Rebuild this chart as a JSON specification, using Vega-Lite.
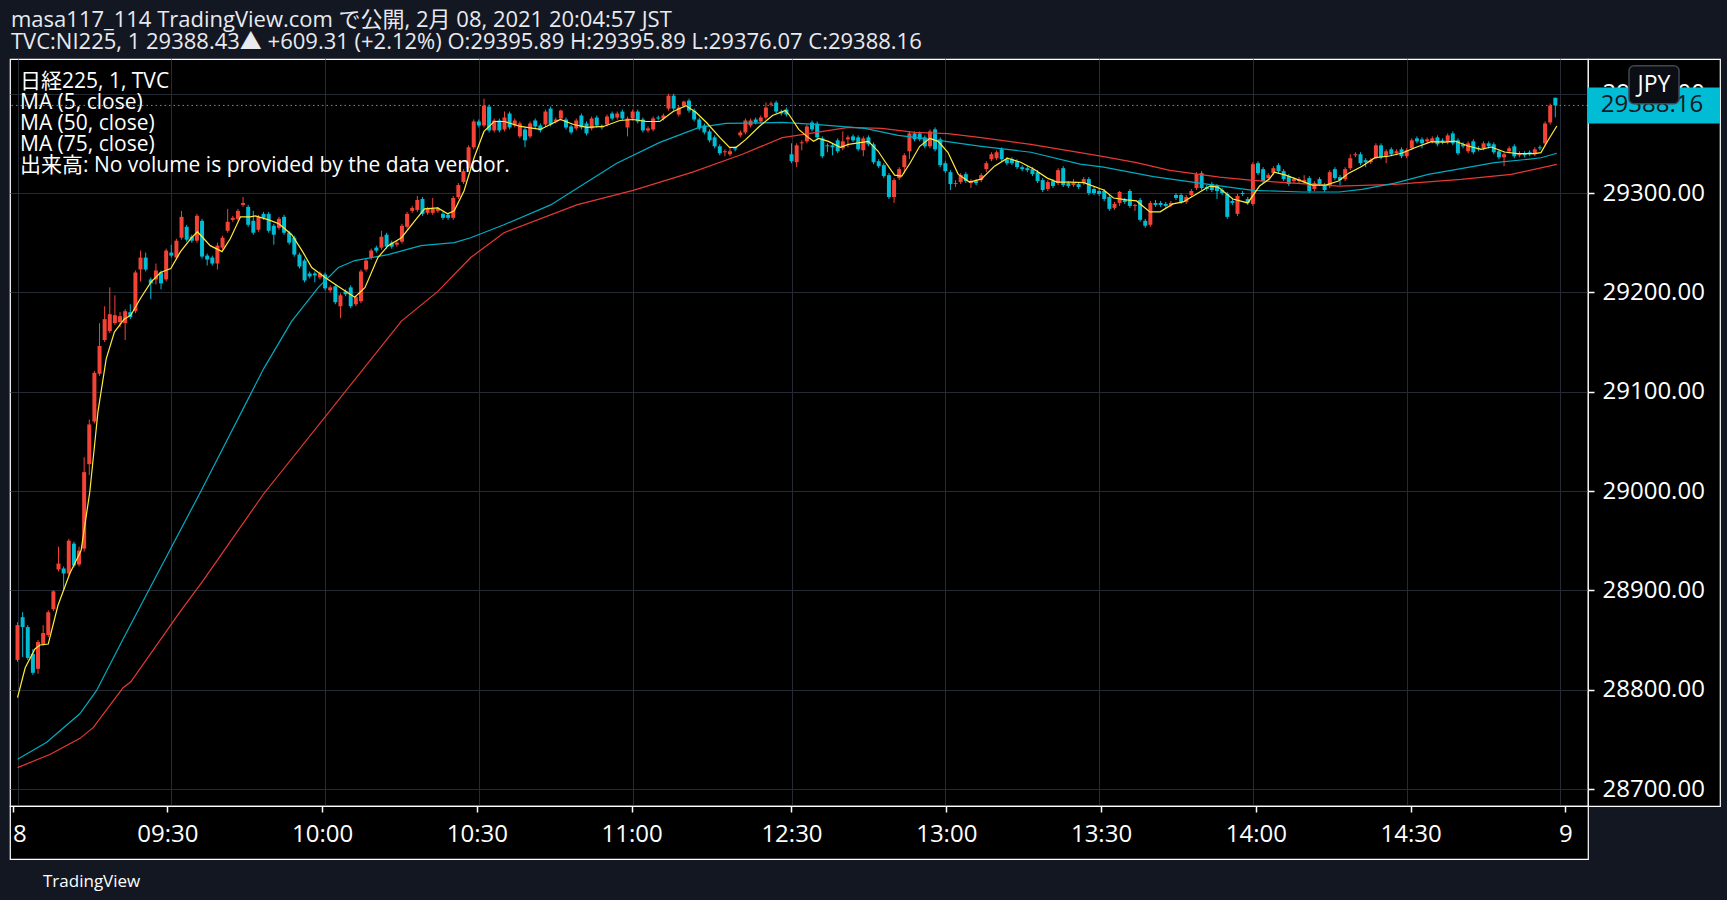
{
  "$schema": "https://vega.github.io/schema/vega-lite/v6.json",
  "background": "#131722",
  "padding": {"left": 8, "top": 9, "right": 9, "bottom": 9},
  "title": {
    "text": "masa117_114 TradingView.com で公開, 2月 08, 2021 20:04:57 JST",
    "subtitle": "TVC:NI225, 1 29388.43▲ +609.31 (+2.12%) O:29395.89 H:29395.89 L:29376.07 C:29388.16",
    "anchor": "start", "frame": "group", "orient": "top", "offset": 4, "dx": 1,
    "font": "Open Sans, Noto Sans CJK JP", "fontSize": 22, "fontWeight": "normal", "color": "#e8eaf0",
    "subtitleFont": "Open Sans, Noto Sans CJK JP", "subtitleFontSize": 22, "subtitleColor": "#e8eaf0", "subtitlePadding": 0
  },
  "columns": 2,
  "spacing": 0,
  "bounds": "flush",
  "datasets": {
    "candles": [
      {"i":0,"o":28830,"h":28868,"l":28828,"c":28865},{"i":1,"o":28873,"h":28878,"l":28833,"c":28863},{"i":2,"o":28863,"h":28865,"l":28830,"c":28832},{"i":3,"o":28836,"h":28841,"l":28815,"c":28817},{"i":4,"o":28821,"h":28850,"l":28816,"c":28848},
      {"i":5,"o":28846,"h":28865,"l":28844,"c":28857},{"i":6,"o":28855,"h":28880,"l":28853,"c":28878},{"i":7,"o":28881,"h":28900,"l":28879,"c":28899},{"i":8,"o":28921,"h":28944,"l":28919,"c":28927},{"i":9,"o":28922,"h":28924,"l":28900,"c":28917},
      {"i":10,"o":28917,"h":28952,"l":28915,"c":28950},{"i":11,"o":28947,"h":28949,"l":28923,"c":28925},{"i":12,"o":28926,"h":28944,"l":28924,"c":28940},{"i":13,"o":28942,"h":29034,"l":28939,"c":29019},{"i":14,"o":29027,"h":29072,"l":29016,"c":29067},
      {"i":15,"o":29070,"h":29121,"l":29068,"c":29119},{"i":16,"o":29118,"h":29169,"l":29116,"c":29146},{"i":17,"o":29152,"h":29186,"l":29150,"c":29173},{"i":18,"o":29161,"h":29205,"l":29159,"c":29178},{"i":19,"o":29169,"h":29197,"l":29167,"c":29177},
      {"i":20,"o":29170,"h":29180,"l":29165,"c":29176},{"i":21,"o":29169,"h":29183,"l":29152,"c":29181},{"i":22,"o":29180,"h":29188,"l":29173,"c":29175},{"i":23,"o":29181,"h":29222,"l":29179,"c":29220},{"i":24,"o":29223,"h":29242,"l":29211,"c":29235},
      {"i":25,"o":29235,"h":29240,"l":29221,"c":29223},{"i":26,"o":29213,"h":29215,"l":29193,"c":29209},{"i":27,"o":29213,"h":29229,"l":29208,"c":29222},{"i":28,"o":29220,"h":29222,"l":29203,"c":29209},{"i":29,"o":29213,"h":29244,"l":29211,"c":29242},
      {"i":30,"o":29240,"h":29248,"l":29235,"c":29237},{"i":31,"o":29235,"h":29254,"l":29233,"c":29252},{"i":32,"o":29255,"h":29282,"l":29253,"c":29276},{"i":33,"o":29266,"h":29268,"l":29251,"c":29253},{"i":34,"o":29256,"h":29258,"l":29250,"c":29252},
      {"i":35,"o":29252,"h":29279,"l":29250,"c":29277},{"i":36,"o":29272,"h":29274,"l":29234,"c":29236},{"i":37,"o":29237,"h":29239,"l":29227,"c":29233},{"i":38,"o":29235,"h":29237,"l":29227,"c":29229},{"i":39,"o":29229,"h":29250,"l":29223,"c":29247},
      {"i":40,"o":29245,"h":29257,"l":29243,"c":29255},{"i":41,"o":29262,"h":29284,"l":29260,"c":29271},{"i":42,"o":29273,"h":29277,"l":29271,"c":29275},{"i":43,"o":29274,"h":29284,"l":29272,"c":29282},{"i":44,"o":29288,"h":29296,"l":29286,"c":29290},
      {"i":45,"o":29286,"h":29288,"l":29266,"c":29268},{"i":46,"o":29272,"h":29282,"l":29258,"c":29260},{"i":47,"o":29263,"h":29278,"l":29261,"c":29276},{"i":48,"o":29279,"h":29281,"l":29273,"c":29275},{"i":49,"o":29279,"h":29281,"l":29260,"c":29262},
      {"i":50,"o":29267,"h":29269,"l":29248,"c":29258},{"i":51,"o":29265,"h":29276,"l":29263,"c":29274},{"i":52,"o":29276,"h":29278,"l":29258,"c":29260},{"i":53,"o":29260,"h":29262,"l":29248,"c":29250},{"i":54,"o":29255,"h":29257,"l":29236,"c":29238},
      {"i":55,"o":29238,"h":29240,"l":29224,"c":29226},{"i":56,"o":29232,"h":29234,"l":29210,"c":29212},{"i":57,"o":29219,"h":29221,"l":29214,"c":29216},{"i":58,"o":29219,"h":29221,"l":29210,"c":29217},{"i":59,"o":29215,"h":29221,"l":29213,"c":29219},
      {"i":60,"o":29218,"h":29220,"l":29202,"c":29204},{"i":61,"o":29202,"h":29207,"l":29200,"c":29205},{"i":62,"o":29206,"h":29208,"l":29188,"c":29190},{"i":63,"o":29186,"h":29199,"l":29174,"c":29197},{"i":64,"o":29201,"h":29203,"l":29196,"c":29198},
      {"i":65,"o":29205,"h":29207,"l":29184,"c":29186},{"i":66,"o":29188,"h":29197,"l":29186,"c":29195},{"i":67,"o":29191,"h":29223,"l":29189,"c":29221},{"i":68,"o":29223,"h":29234,"l":29221,"c":29232},{"i":69,"o":29235,"h":29244,"l":29233,"c":29242},
      {"i":70,"o":29245,"h":29247,"l":29240,"c":29242},{"i":71,"o":29245,"h":29262,"l":29243,"c":29256},{"i":72,"o":29258,"h":29260,"l":29244,"c":29246},{"i":73,"o":29250,"h":29252,"l":29244,"c":29246},{"i":74,"o":29248,"h":29252,"l":29246,"c":29250},
      {"i":75,"o":29251,"h":29269,"l":29249,"c":29267},{"i":76,"o":29266,"h":29281,"l":29264,"c":29279},{"i":77,"o":29282,"h":29287,"l":29280,"c":29285},{"i":78,"o":29283,"h":29297,"l":29281,"c":29293},{"i":79,"o":29294,"h":29296,"l":29277,"c":29279},
      {"i":80,"o":29280,"h":29286,"l":29278,"c":29284},{"i":81,"o":29280,"h":29295,"l":29278,"c":29284},{"i":82,"o":29282,"h":29286,"l":29280,"c":29284},{"i":83,"o":29279,"h":29281,"l":29273,"c":29275},{"i":84,"o":29278,"h":29280,"l":29273,"c":29275},
      {"i":85,"o":29275,"h":29297,"l":29273,"c":29295},{"i":86,"o":29296,"h":29310,"l":29294,"c":29308},{"i":87,"o":29311,"h":29324,"l":29309,"c":29322},{"i":88,"o":29325,"h":29348,"l":29323,"c":29346},{"i":89,"o":29346,"h":29374,"l":29344,"c":29372},
      {"i":90,"o":29372,"h":29374,"l":29366,"c":29368},{"i":91,"o":29368,"h":29395,"l":29366,"c":29388},{"i":92,"o":29387,"h":29389,"l":29361,"c":29363},{"i":93,"o":29363,"h":29375,"l":29361,"c":29373},{"i":94,"o":29373,"h":29375,"l":29361,"c":29363},
      {"i":95,"o":29364,"h":29382,"l":29362,"c":29376},{"i":96,"o":29380,"h":29382,"l":29364,"c":29366},{"i":97,"o":29368,"h":29375,"l":29366,"c":29373},{"i":98,"o":29357,"h":29372,"l":29355,"c":29370},{"i":99,"o":29364,"h":29366,"l":29346,"c":29353},
      {"i":100,"o":29357,"h":29372,"l":29355,"c":29370},{"i":101,"o":29373,"h":29375,"l":29365,"c":29367},{"i":102,"o":29368,"h":29370,"l":29361,"c":29363},{"i":103,"o":29369,"h":29384,"l":29367,"c":29382},{"i":104,"o":29385,"h":29387,"l":29367,"c":29369},
      {"i":105,"o":29372,"h":29376,"l":29370,"c":29374},{"i":106,"o":29375,"h":29384,"l":29373,"c":29383},{"i":107,"o":29374,"h":29376,"l":29364,"c":29366},{"i":108,"o":29367,"h":29369,"l":29359,"c":29361},{"i":109,"o":29365,"h":29375,"l":29363,"c":29373},
      {"i":110,"o":29378,"h":29380,"l":29364,"c":29366},{"i":111,"o":29370,"h":29372,"l":29358,"c":29360},{"i":112,"o":29365,"h":29377,"l":29363,"c":29375},{"i":113,"o":29376,"h":29378,"l":29366,"c":29368},{"i":114,"o":29367,"h":29369,"l":29364,"c":29366},
      {"i":115,"o":29369,"h":29379,"l":29367,"c":29377},{"i":116,"o":29380,"h":29382,"l":29373,"c":29375},{"i":117,"o":29376,"h":29382,"l":29374,"c":29380},{"i":118,"o":29382,"h":29384,"l":29373,"c":29375},{"i":119,"o":29366,"h":29377,"l":29357,"c":29375},
      {"i":120,"o":29375,"h":29384,"l":29373,"c":29382},{"i":121,"o":29382,"h":29384,"l":29370,"c":29372},{"i":122,"o":29374,"h":29376,"l":29361,"c":29363},{"i":123,"o":29363,"h":29367,"l":29361,"c":29365},{"i":124,"o":29364,"h":29377,"l":29362,"c":29375},
      {"i":125,"o":29376,"h":29378,"l":29373,"c":29375},{"i":126,"o":29375,"h":29380,"l":29373,"c":29378},{"i":127,"o":29385,"h":29400,"l":29383,"c":29398},{"i":128,"o":29398,"h":29400,"l":29383,"c":29385},{"i":129,"o":29379,"h":29388,"l":29377,"c":29386},
      {"i":130,"o":29388,"h":29393,"l":29386,"c":29392},{"i":131,"o":29393,"h":29395,"l":29381,"c":29383},{"i":132,"o":29383,"h":29385,"l":29372,"c":29374},{"i":133,"o":29374,"h":29376,"l":29363,"c":29365},{"i":134,"o":29368,"h":29370,"l":29359,"c":29361},
      {"i":135,"o":29362,"h":29364,"l":29351,"c":29353},{"i":136,"o":29356,"h":29358,"l":29345,"c":29347},{"i":137,"o":29347,"h":29349,"l":29338,"c":29340},{"i":138,"o":29341,"h":29344,"l":29337,"c":29342},{"i":139,"o":29339,"h":29346,"l":29337,"c":29342},
      {"i":140,"o":29345,"h":29347,"l":29342,"c":29344},{"i":141,"o":29358,"h":29363,"l":29356,"c":29361},{"i":142,"o":29361,"h":29375,"l":29359,"c":29373},{"i":143,"o":29368,"h":29375,"l":29366,"c":29373},{"i":144,"o":29374,"h":29376,"l":29369,"c":29371},
      {"i":145,"o":29372,"h":29378,"l":29370,"c":29376},{"i":146,"o":29376,"h":29391,"l":29374,"c":29386},{"i":147,"o":29389,"h":29392,"l":29387,"c":29390},{"i":148,"o":29391,"h":29393,"l":29380,"c":29382},{"i":149,"o":29382,"h":29384,"l":29378,"c":29380},
      {"i":150,"o":29384,"h":29386,"l":29377,"c":29379},{"i":151,"o":29339,"h":29350,"l":29330,"c":29332},{"i":152,"o":29331,"h":29350,"l":29326,"c":29348},{"i":153,"o":29350,"h":29353,"l":29343,"c":29351},{"i":154,"o":29352,"h":29369,"l":29350,"c":29367},
      {"i":155,"o":29371,"h":29373,"l":29362,"c":29364},{"i":156,"o":29370,"h":29372,"l":29354,"c":29356},{"i":157,"o":29355,"h":29357,"l":29335,"c":29337},{"i":158,"o":29348,"h":29350,"l":29341,"c":29347},{"i":159,"o":29348,"h":29350,"l":29338,"c":29346},
      {"i":160,"o":29353,"h":29355,"l":29340,"c":29342},{"i":161,"o":29345,"h":29362,"l":29343,"c":29352},{"i":162,"o":29354,"h":29358,"l":29346,"c":29356},{"i":163,"o":29357,"h":29359,"l":29351,"c":29353},{"i":164,"o":29356,"h":29358,"l":29342,"c":29344},
      {"i":165,"o":29343,"h":29357,"l":29337,"c":29355},{"i":166,"o":29356,"h":29358,"l":29347,"c":29349},{"i":167,"o":29349,"h":29351,"l":29329,"c":29331},{"i":168,"o":29332,"h":29334,"l":29325,"c":29327},{"i":169,"o":29328,"h":29330,"l":29315,"c":29317},
      {"i":170,"o":29318,"h":29320,"l":29294,"c":29296},{"i":171,"o":29296,"h":29315,"l":29290,"c":29313},{"i":172,"o":29315,"h":29326,"l":29313,"c":29324},{"i":173,"o":29326,"h":29340,"l":29320,"c":29338},{"i":174,"o":29342,"h":29362,"l":29334,"c":29360},
      {"i":175,"o":29360,"h":29362,"l":29352,"c":29354},{"i":176,"o":29360,"h":29362,"l":29352,"c":29354},{"i":177,"o":29356,"h":29358,"l":29345,"c":29347},{"i":178,"o":29347,"h":29364,"l":29345,"c":29362},{"i":179,"o":29364,"h":29366,"l":29342,"c":29344},
      {"i":180,"o":29354,"h":29356,"l":29326,"c":29328},{"i":181,"o":29330,"h":29332,"l":29320,"c":29322},{"i":182,"o":29321,"h":29323,"l":29303,"c":29309},{"i":183,"o":29309,"h":29313,"l":29306,"c":29310},{"i":184,"o":29311,"h":29320,"l":29309,"c":29318},
      {"i":185,"o":29319,"h":29321,"l":29310,"c":29312},{"i":186,"o":29310,"h":29314,"l":29305,"c":29312},{"i":187,"o":29312,"h":29314,"l":29308,"c":29310},{"i":188,"o":29313,"h":29320,"l":29311,"c":29318},{"i":189,"o":29324,"h":29332,"l":29321,"c":29330},
      {"i":190,"o":29334,"h":29341,"l":29332,"c":29339},{"i":191,"o":29335,"h":29343,"l":29333,"c":29341},{"i":192,"o":29344,"h":29346,"l":29332,"c":29334},{"i":193,"o":29334,"h":29336,"l":29328,"c":29330},{"i":194,"o":29334,"h":29336,"l":29328,"c":29330},
      {"i":195,"o":29332,"h":29334,"l":29324,"c":29326},{"i":196,"o":29326,"h":29328,"l":29322,"c":29324},{"i":197,"o":29325,"h":29327,"l":29321,"c":29323},{"i":198,"o":29324,"h":29326,"l":29317,"c":29319},{"i":199,"o":29321,"h":29323,"l":29310,"c":29312},
      {"i":200,"o":29313,"h":29315,"l":29301,"c":29303},{"i":201,"o":29304,"h":29313,"l":29302,"c":29311},{"i":202,"o":29312,"h":29314,"l":29305,"c":29307},{"i":203,"o":29310,"h":29325,"l":29308,"c":29323},{"i":204,"o":29325,"h":29327,"l":29306,"c":29308},
      {"i":205,"o":29310,"h":29312,"l":29305,"c":29307},{"i":206,"o":29308,"h":29314,"l":29306,"c":29310},{"i":207,"o":29309,"h":29311,"l":29304,"c":29306},{"i":208,"o":29310,"h":29316,"l":29308,"c":29314},{"i":209,"o":29314,"h":29316,"l":29298,"c":29300},
      {"i":210,"o":29304,"h":29306,"l":29298,"c":29300},{"i":211,"o":29302,"h":29304,"l":29297,"c":29299},{"i":212,"o":29302,"h":29304,"l":29292,"c":29294},{"i":213,"o":29296,"h":29298,"l":29282,"c":29284},{"i":214,"o":29285,"h":29291,"l":29283,"c":29289},
      {"i":215,"o":29290,"h":29302,"l":29287,"c":29301},{"i":216,"o":29293,"h":29295,"l":29289,"c":29291},{"i":217,"o":29302,"h":29304,"l":29285,"c":29287},{"i":218,"o":29287,"h":29289,"l":29282,"c":29288},{"i":219,"o":29293,"h":29295,"l":29271,"c":29273},
      {"i":220,"o":29272,"h":29274,"l":29265,"c":29267},{"i":221,"o":29268,"h":29292,"l":29266,"c":29290},{"i":222,"o":29290,"h":29293,"l":29286,"c":29288},{"i":223,"o":29290,"h":29292,"l":29286,"c":29288},{"i":224,"o":29289,"h":29291,"l":29285,"c":29287},
      {"i":225,"o":29288,"h":29292,"l":29286,"c":29290},{"i":226,"o":29298,"h":29300,"l":29293,"c":29295},{"i":227,"o":29298,"h":29300,"l":29289,"c":29291},{"i":228,"o":29291,"h":29298,"l":29289,"c":29296},{"i":229,"o":29298,"h":29304,"l":29296,"c":29302},
      {"i":230,"o":29305,"h":29321,"l":29303,"c":29319},{"i":231,"o":29320,"h":29322,"l":29303,"c":29305},{"i":232,"o":29306,"h":29308,"l":29302,"c":29304},{"i":233,"o":29309,"h":29311,"l":29301,"c":29303},{"i":234,"o":29307,"h":29309,"l":29294,"c":29302},
      {"i":235,"o":29303,"h":29305,"l":29298,"c":29300},{"i":236,"o":29299,"h":29301,"l":29274,"c":29276},{"i":237,"o":29292,"h":29294,"l":29288,"c":29290},{"i":238,"o":29279,"h":29299,"l":29277,"c":29297},{"i":239,"o":29300,"h":29302,"l":29297,"c":29299},
      {"i":240,"o":29294,"h":29296,"l":29288,"c":29290},{"i":241,"o":29289,"h":29331,"l":29287,"c":29329},{"i":242,"o":29330,"h":29332,"l":29318,"c":29320},{"i":243,"o":29324,"h":29326,"l":29310,"c":29312},{"i":244,"o":29315,"h":29320,"l":29313,"c":29318},
      {"i":245,"o":29320,"h":29327,"l":29318,"c":29325},{"i":246,"o":29328,"h":29330,"l":29320,"c":29322},{"i":247,"o":29322,"h":29324,"l":29312,"c":29314},{"i":248,"o":29317,"h":29319,"l":29307,"c":29309},{"i":249,"o":29312,"h":29316,"l":29310,"c":29314},
      {"i":250,"o":29312,"h":29316,"l":29310,"c":29314},{"i":251,"o":29311,"h":29318,"l":29309,"c":29313},{"i":252,"o":29315,"h":29317,"l":29300,"c":29302},{"i":253,"o":29304,"h":29312,"l":29302,"c":29310},{"i":254,"o":29314,"h":29316,"l":29307,"c":29309},
      {"i":255,"o":29308,"h":29310,"l":29301,"c":29303},{"i":256,"o":29307,"h":29323,"l":29305,"c":29321},{"i":257,"o":29324,"h":29326,"l":29313,"c":29315},{"i":258,"o":29316,"h":29318,"l":29308,"c":29313},{"i":259,"o":29314,"h":29326,"l":29312,"c":29324},
      {"i":260,"o":29325,"h":29339,"l":29323,"c":29335},{"i":261,"o":29338,"h":29341,"l":29336,"c":29339},{"i":262,"o":29339,"h":29341,"l":29328,"c":29330},{"i":263,"o":29333,"h":29335,"l":29326,"c":29331},{"i":264,"o":29331,"h":29335,"l":29329,"c":29333},
      {"i":265,"o":29336,"h":29350,"l":29334,"c":29348},{"i":266,"o":29348,"h":29350,"l":29334,"c":29336},{"i":267,"o":29337,"h":29344,"l":29330,"c":29342},{"i":268,"o":29344,"h":29346,"l":29337,"c":29339},{"i":269,"o":29340,"h":29344,"l":29338,"c":29342},
      {"i":270,"o":29344,"h":29346,"l":29335,"c":29337},{"i":271,"o":29337,"h":29345,"l":29335,"c":29343},{"i":272,"o":29345,"h":29355,"l":29343,"c":29353},{"i":273,"o":29355,"h":29357,"l":29350,"c":29352},{"i":274,"o":29354,"h":29356,"l":29345,"c":29350},
      {"i":275,"o":29352,"h":29356,"l":29350,"c":29354},{"i":276,"o":29352,"h":29357,"l":29350,"c":29355},{"i":277,"o":29356,"h":29358,"l":29347,"c":29349},{"i":278,"o":29353,"h":29355,"l":29349,"c":29351},{"i":279,"o":29351,"h":29360,"l":29349,"c":29358},
      {"i":280,"o":29360,"h":29362,"l":29348,"c":29350},{"i":281,"o":29353,"h":29355,"l":29338,"c":29340},{"i":282,"o":29349,"h":29351,"l":29345,"c":29347},{"i":283,"o":29342,"h":29352,"l":29340,"c":29350},{"i":284,"o":29352,"h":29354,"l":29339,"c":29341},
      {"i":285,"o":29345,"h":29347,"l":29342,"c":29344},{"i":286,"o":29345,"h":29352,"l":29343,"c":29350},{"i":287,"o":29350,"h":29352,"l":29345,"c":29347},{"i":288,"o":29349,"h":29351,"l":29339,"c":29341},{"i":289,"o":29342,"h":29344,"l":29334,"c":29336},
      {"i":290,"o":29336,"h":29341,"l":29327,"c":29339},{"i":291,"o":29342,"h":29347,"l":29340,"c":29345},{"i":292,"o":29347,"h":29349,"l":29335,"c":29337},{"i":293,"o":29338,"h":29342,"l":29336,"c":29340},{"i":294,"o":29340,"h":29342,"l":29336,"c":29338},
      {"i":295,"o":29341,"h":29343,"l":29337,"c":29339},{"i":296,"o":29339,"h":29346,"l":29337,"c":29344},{"i":297,"o":29346,"h":29348,"l":29343,"c":29345},{"i":298,"o":29350,"h":29372,"l":29348,"c":29370},{"i":299,"o":29371,"h":29390,"l":29369,"c":29388},
      {"i":300,"o":29395.89,"h":29395.89,"l":29376.07,"c":29388.16}
    ],
    "ma": [
      {"s":"MA75","i":0,"v":28721.5},{"s":"MA75","i":6.4,"v":28735},{"s":"MA75","i":12.2,"v":28751},{"s":"MA75","i":14.8,"v":28762},{"s":"MA75","i":20.6,"v":28802},{"s":"MA75","i":22.1,"v":28808},{"s":"MA75","i":31.8,"v":28879},{"s":"MA75","i":36.1,"v":28909},{"s":"MA75","i":48,"v":28997},{"s":"MA75","i":74.9,"v":29171},{"s":"MA75","i":82,"v":29201},{"s":"MA75","i":88.4,"v":29235},{"s":"MA75","i":94.9,"v":29260},{"s":"MA75","i":109.1,"v":29288},{"s":"MA75","i":120.1,"v":29302.6},{"s":"MA75","i":131.7,"v":29321},{"s":"MA75","i":141.4,"v":29339},{"s":"MA75","i":149.2,"v":29355.7},{"s":"MA75","i":155.6,"v":29360.7},{"s":"MA75","i":162.1,"v":29366},{"s":"MA75","i":168.6,"v":29365},{"s":"MA75","i":175,"v":29361},{"s":"MA75","i":181.5,"v":29359.7},{"s":"MA75","i":188,"v":29355.7},{"s":"MA75","i":197.7,"v":29349},{"s":"MA75","i":207.3,"v":29340.6},{"s":"MA75","i":211.9,"v":29336.6},{"s":"MA75","i":218.3,"v":29330.6},{"s":"MA75","i":224.8,"v":29322.8},{"s":"MA75","i":234.5,"v":29316},{"s":"MA75","i":241,"v":29312.8},{"s":"MA75","i":247.4,"v":29310.4},{"s":"MA75","i":257.8,"v":29307},{"s":"MA75","i":268.7,"v":29308.7},{"s":"MA75","i":281.6,"v":29313.7},{"s":"MA75","i":291.4,"v":29318.8},{"s":"MA75","i":300.3,"v":29328.8},
      {"s":"MA50","i":0,"v":28730},{"s":"MA50","i":5.7,"v":28747},{"s":"MA50","i":12.2,"v":28776},{"s":"MA50","i":15.4,"v":28799},{"s":"MA50","i":20.6,"v":28851},{"s":"MA50","i":25.4,"v":28898},{"s":"MA50","i":35.7,"v":28999},{"s":"MA50","i":48,"v":29123},{"s":"MA50","i":53.5,"v":29171},{"s":"MA50","i":58.7,"v":29205},{"s":"MA50","i":62.6,"v":29225},{"s":"MA50","i":65.8,"v":29232},{"s":"MA50","i":72.3,"v":29238},{"s":"MA50","i":78.7,"v":29247},{"s":"MA50","i":85.2,"v":29250},{"s":"MA50","i":88.4,"v":29255},{"s":"MA50","i":94.9,"v":29268},{"s":"MA50","i":104,"v":29288},{"s":"MA50","i":116.9,"v":29330},{"s":"MA50","i":125.3,"v":29351},{"s":"MA50","i":133,"v":29366},{"s":"MA50","i":138.2,"v":29370},{"s":"MA50","i":149.2,"v":29371},{"s":"MA50","i":155.6,"v":29369},{"s":"MA50","i":165.3,"v":29365},{"s":"MA50","i":171.8,"v":29358},{"s":"MA50","i":178.3,"v":29354},{"s":"MA50","i":188,"v":29347},{"s":"MA50","i":197.7,"v":29341},{"s":"MA50","i":207.3,"v":29329},{"s":"MA50","i":211.9,"v":29326},{"s":"MA50","i":221.6,"v":29316.5},{"s":"MA50","i":231.3,"v":29309.4},{"s":"MA50","i":241,"v":29302.7},{"s":"MA50","i":250.6,"v":29301},{"s":"MA50","i":257.8,"v":29301},{"s":"MA50","i":262.3,"v":29303.7},{"s":"MA50","i":268.7,"v":29310},{"s":"MA50","i":275.2,"v":29318.8},{"s":"MA50","i":281.6,"v":29324.5},{"s":"MA50","i":288.1,"v":29330.5},{"s":"MA50","i":294.6,"v":29333.9},{"s":"MA50","i":297.2,"v":29335.5},{"s":"MA50","i":300.3,"v":29340},
      {"s":"MA5","i":0,"v":28792},{"s":"MA5","i":0.8,"v":28808},{"s":"MA5","i":1.5,"v":28822},{"s":"MA5","i":3.4,"v":28841},{"s":"MA5","i":4.4,"v":28845},{"s":"MA5","i":6,"v":28846},{"s":"MA5","i":7.9,"v":28885},{"s":"MA5","i":10.2,"v":28917},{"s":"MA5","i":12.4,"v":28940},{"s":"MA5","i":14.1,"v":28999},{"s":"MA5","i":15.7,"v":29080},{"s":"MA5","i":17.3,"v":29133},{"s":"MA5","i":18.9,"v":29160},{"s":"MA5","i":20.8,"v":29173},{"s":"MA5","i":22.1,"v":29177},{"s":"MA5","i":24,"v":29194},{"s":"MA5","i":26,"v":29210},{"s":"MA5","i":27.9,"v":29220},{"s":"MA5","i":29.9,"v":29224},{"s":"MA5","i":31.8,"v":29241},{"s":"MA5","i":33.8,"v":29254},{"s":"MA5","i":35.1,"v":29261},{"s":"MA5","i":37.6,"v":29247},{"s":"MA5","i":39.9,"v":29241},{"s":"MA5","i":41.5,"v":29254},{"s":"MA5","i":43.5,"v":29276},{"s":"MA5","i":45.4,"v":29276},{"s":"MA5","i":46.4,"v":29277},{"s":"MA5","i":49,"v":29273},{"s":"MA5","i":51,"v":29269},{"s":"MA5","i":53.5,"v":29258},{"s":"MA5","i":55.5,"v":29242},{"s":"MA5","i":57.4,"v":29225},{"s":"MA5","i":60,"v":29215},{"s":"MA5","i":62.6,"v":29206},{"s":"MA5","i":65.8,"v":29195},{"s":"MA5","i":67.8,"v":29205},{"s":"MA5","i":70.3,"v":29235},{"s":"MA5","i":72.3,"v":29247},{"s":"MA5","i":74.9,"v":29255},{"s":"MA5","i":77.5,"v":29272},{"s":"MA5","i":79.4,"v":29284},{"s":"MA5","i":82,"v":29285},{"s":"MA5","i":83.9,"v":29279},{"s":"MA5","i":85.2,"v":29282},{"s":"MA5","i":87.1,"v":29302},{"s":"MA5","i":89.1,"v":29336},{"s":"MA5","i":91,"v":29362},{"s":"MA5","i":93,"v":29372},{"s":"MA5","i":95,"v":29372},{"s":"MA5","i":98.1,"v":29367},{"s":"MA5","i":102,"v":29364},{"s":"MA5","i":105.9,"v":29374},{"s":"MA5","i":108.5,"v":29369},{"s":"MA5","i":111.1,"v":29366},{"s":"MA5","i":114.3,"v":29367},{"s":"MA5","i":117.5,"v":29373},{"s":"MA5","i":120.1,"v":29374},{"s":"MA5","i":122.7,"v":29372},{"s":"MA5","i":125.3,"v":29372},{"s":"MA5","i":127.9,"v":29382},{"s":"MA5","i":130.4,"v":29388},{"s":"MA5","i":132.4,"v":29381},{"s":"MA5","i":134.4,"v":29371},{"s":"MA5","i":137,"v":29356},{"s":"MA5","i":138.9,"v":29346},{"s":"MA5","i":140.2,"v":29346},{"s":"MA5","i":142.1,"v":29354},{"s":"MA5","i":144.7,"v":29367},{"s":"MA5","i":147.3,"v":29378},{"s":"MA5","i":149.8,"v":29383},{"s":"MA5","i":150.5,"v":29379},{"s":"MA5","i":152.4,"v":29364},{"s":"MA5","i":154,"v":29357},{"s":"MA5","i":155.3,"v":29352},{"s":"MA5","i":156.3,"v":29355},{"s":"MA5","i":158.2,"v":29352},{"s":"MA5","i":160.5,"v":29346},{"s":"MA5","i":162.1,"v":29349},{"s":"MA5","i":164.7,"v":29351},{"s":"MA5","i":166,"v":29352},{"s":"MA5","i":167.9,"v":29342},{"s":"MA5","i":169.2,"v":29332},{"s":"MA5","i":171.1,"v":29318},{"s":"MA5","i":172.5,"v":29317},{"s":"MA5","i":174.1,"v":29330},{"s":"MA5","i":176,"v":29347},{"s":"MA5","i":178,"v":29355},{"s":"MA5","i":179.6,"v":29352},{"s":"MA5","i":181.5,"v":29341},{"s":"MA5","i":183.5,"v":29319},{"s":"MA5","i":185.7,"v":29311},{"s":"MA5","i":188,"v":29314},{"s":"MA5","i":190.6,"v":29327},{"s":"MA5","i":193.1,"v":29335},{"s":"MA5","i":195.7,"v":29331},{"s":"MA5","i":198.3,"v":29324},{"s":"MA5","i":200.9,"v":29315},{"s":"MA5","i":202.8,"v":29311},{"s":"MA5","i":205.4,"v":29311},{"s":"MA5","i":208,"v":29310.5},{"s":"MA5","i":211.9,"v":29303},{"s":"MA5","i":213.8,"v":29295},{"s":"MA5","i":216.4,"v":29293},{"s":"MA5","i":218.3,"v":29292},{"s":"MA5","i":220.9,"v":29281},{"s":"MA5","i":222.9,"v":29281},{"s":"MA5","i":225.4,"v":29289},{"s":"MA5","i":227.4,"v":29291},{"s":"MA5","i":230,"v":29299},{"s":"MA5","i":232.6,"v":29307},{"s":"MA5","i":234.2,"v":29306},{"s":"MA5","i":237.1,"v":29294},{"s":"MA5","i":240,"v":29290},{"s":"MA5","i":242.3,"v":29307},{"s":"MA5","i":244.2,"v":29314},{"s":"MA5","i":245.2,"v":29321},{"s":"MA5","i":247.4,"v":29318},{"s":"MA5","i":250,"v":29313},{"s":"MA5","i":252.6,"v":29308},{"s":"MA5","i":255.2,"v":29308},{"s":"MA5","i":257.7,"v":29312},{"s":"MA5","i":259.7,"v":29320},{"s":"MA5","i":262.3,"v":29327},{"s":"MA5","i":264.8,"v":29335.6},{"s":"MA5","i":267.4,"v":29337},{"s":"MA5","i":270,"v":29340},{"s":"MA5","i":272.6,"v":29345.6},{"s":"MA5","i":275.8,"v":29351.7},{"s":"MA5","i":278.4,"v":29351.3},{"s":"MA5","i":280.4,"v":29352.3},{"s":"MA5","i":283,"v":29347.3},{"s":"MA5","i":285.5,"v":29344},{"s":"MA5","i":287.5,"v":29346.3},{"s":"MA5","i":290.1,"v":29341.3},{"s":"MA5","i":292.6,"v":29339.6},{"s":"MA5","i":295.9,"v":29339.6},{"s":"MA5","i":297.2,"v":29340.6},{"s":"MA5","i":298.5,"v":29352.3},{"s":"MA5","i":300.3,"v":29367.4}
    ]
  },
  "concat": [
    {
      "width": 1578,
      "height": 747,
      "title": {
        "text": ["日経225, 1, TVC", "MA (5, close)", "MA (50, close)", "MA (75, close)", "出来高: No volume is provided by the data vendor."],
        "anchor": "start", "orient": "top", "frame": "group", "offset": -117, "baseline": "top", "dx": 10,
        "font": "Open Sans, Noto Sans CJK JP", "fontSize": 21, "lineHeight": 21, "fontWeight": "normal", "color": "#ffffff"
      },
      "layer": [
        {
          "data": {"name": "candles"},
          "mark": {"type": "rule", "strokeWidth": 1, "clip": true},
          "encoding": {
            "x": {"field": "i", "type": "quantitative", "scale": {"domain": [-0.49, 305.4], "nice": false, "zero": false},
                  "axis": {"orient": "bottom", "values": [0, 30, 60, 90, 120, 151, 181, 211, 241, 271, 301], "grid": true, "labels": false, "ticks": false, "domain": false, "title": null}},
            "y": {"field": "l", "type": "quantitative", "scale": {"domain": [28682.9, 29434.9], "nice": false, "zero": false},
                  "axis": {"orient": "right", "values": [28700, 28800, 28900, 29000, 29100, 29200, 29300, 29400], "grid": true, "labels": false, "ticks": false, "domain": false, "title": null}},
            "y2": {"field": "h"},
            "color": {"condition": {"test": "datum.c >= datum.o", "value": "#f44336"}, "value": "#00bcd4"}
          }
        },
        {
          "data": {"name": "candles"},
          "mark": {"type": "bar", "size": 4, "orient": "vertical", "clip": true},
          "encoding": {
            "x": {"field": "i", "type": "quantitative", "scale": {"domain": [-0.49, 305.4], "nice": false, "zero": false}},
            "y": {"field": "o", "type": "quantitative", "scale": {"domain": [28682.9, 29434.9], "nice": false, "zero": false}},
            "y2": {"field": "c"},
            "color": {"condition": {"test": "datum.c >= datum.o", "value": "#f44336"}, "value": "#00bcd4"}
          }
        },
        {
          "data": {"name": "ma"},
          "mark": {"type": "line", "strokeWidth": 1.2, "clip": true},
          "encoding": {
            "x": {"field": "i", "type": "quantitative", "scale": {"domain": [-0.49, 305.4], "nice": false, "zero": false}},
            "y": {"field": "v", "type": "quantitative", "scale": {"domain": [28682.9, 29434.9], "nice": false, "zero": false}},
            "color": {"field": "s", "type": "nominal", "scale": {"domain": ["MA5", "MA50", "MA75"], "range": ["#ffeb3b", "#00acc1", "#e53935"]}, "legend": null}
          }
        },
        {
          "data": {"values": [{"price": 29388.16}]},
          "mark": {"type": "rule", "color": "#00bcd4", "strokeWidth": 1, "strokeDash": [1.5, 3]},
          "encoding": {
            "y": {"field": "price", "type": "quantitative", "scale": {"domain": [28682.9, 29434.9], "nice": false, "zero": false}}
          }
        }
      ]
    },
    {
      "width": 132,
      "height": 747,
      "layer": [
        {
          "data": {"values": [{"price": 29388.16}]},
          "mark": {"type": "tick", "color": "#00bcd4", "size": 132, "thickness": 36, "opacity": 1},
          "encoding": {
            "y": {"field": "price", "type": "quantitative", "scale": {"domain": [28682.9, 29434.9], "nice": false, "zero": false},
                  "axis": {"orient": "left", "values": [28700, 28800, 28900, 29000, 29100, 29200, 29300, 29400], "format": ".2f",
                           "tickSize": -6, "tickColor": "#ffffff", "tickWidth": 1.5, "labelPadding": -8, "labelAlign": "left", "labelBaseline": "middle",
                           "labelFont": "Open Sans", "labelFontSize": 24, "labelColor": "#ffffff", "grid": false, "domain": false, "title": null}}
          }
        },
        {
          "data": {"values": [{"price": 29388.16}]},
          "mark": {"type": "text", "color": "#131722", "font": "Open Sans", "fontSize": 24, "align": "center", "baseline": "middle", "dx": -2},
          "encoding": {
            "y": {"field": "price", "type": "quantitative", "scale": {"domain": [28682.9, 29434.9], "nice": false, "zero": false}},
            "text": {"field": "price", "type": "quantitative", "format": ".2f"}
          }
        },
        {
          "data": {"values": [{"label": "JPY"}]},
          "mark": {"type": "tick", "color": "#0b0e14", "stroke": "#434651", "strokeWidth": 1.5, "size": 50, "thickness": 38, "opacity": 1, "cornerRadius": 5},
          "encoding": {
            "y": {"datum": 29409, "type": "quantitative", "scale": {"domain": [28682.9, 29434.9], "nice": false, "zero": false}}
          }
        },
        {
          "data": {"values": [{"label": "JPY"}]},
          "mark": {"type": "text", "color": "#ffffff", "font": "Open Sans", "fontSize": 23, "align": "center", "baseline": "middle"},
          "encoding": {
            "y": {"datum": 29409, "type": "quantitative", "scale": {"domain": [28682.9, 29434.9], "nice": false, "zero": false}},
            "text": {"field": "label", "type": "nominal"}
          }
        }
      ]
    },
    {
      "width": 1578,
      "height": 53,
      "title": {"text": "TradingView", "orient": "bottom", "anchor": "start", "frame": "group", "offset": 15, "dx": 33,
                "font": "Open Sans", "fontSize": 17, "fontWeight": "normal", "color": "#ffffff"},
      "data": {"name": "candles"},
      "mark": {"type": "tick", "opacity": 0},
      "encoding": {
        "x": {"field": "i", "type": "quantitative", "scale": {"domain": [-0.49, 305.4], "nice": false, "zero": false},
              "axis": {"orient": "top", "values": [0, 30, 60, 90, 120, 151, 181, 211, 241, 271, 301],
                       "labelExpr": "datum.value == 0 ? '8' : datum.value == 301 ? '9' : datum.value == 30 ? '09:30' : datum.value == 60 ? '10:00' : datum.value == 90 ? '10:30' : datum.value == 120 ? '11:00' : datum.value == 151 ? '12:30' : datum.value == 181 ? '13:00' : datum.value == 211 ? '13:30' : datum.value == 241 ? '14:00' : datum.value == 271 ? '14:30' : ''",
                       "tickSize": -6, "tickColor": "#ffffff", "tickWidth": 1.5, "labelPadding": -22, "labelBaseline": "middle", "labelFlush": false, "labelOverlap": false,
                       "labelAlign": {"condition": {"test": "datum.value == 0", "value": "left"}, "value": "center"},
                       "labelFont": "Open Sans", "labelFontSize": 24, "labelColor": "#ffffff", "grid": false, "domain": false, "title": null}}
      }
    },
    {
      "width": 132,
      "height": 53,
      "data": {"values": [{}]},
      "mark": {"type": "rule", "opacity": 0},
      "encoding": {}
    }
  ],
  "config": {
    "view": {"fill": "#000000", "stroke": "#ffffff", "strokeWidth": 1.2},
    "axis": {"gridColor": "#262a35", "gridWidth": 1}
  }
}
